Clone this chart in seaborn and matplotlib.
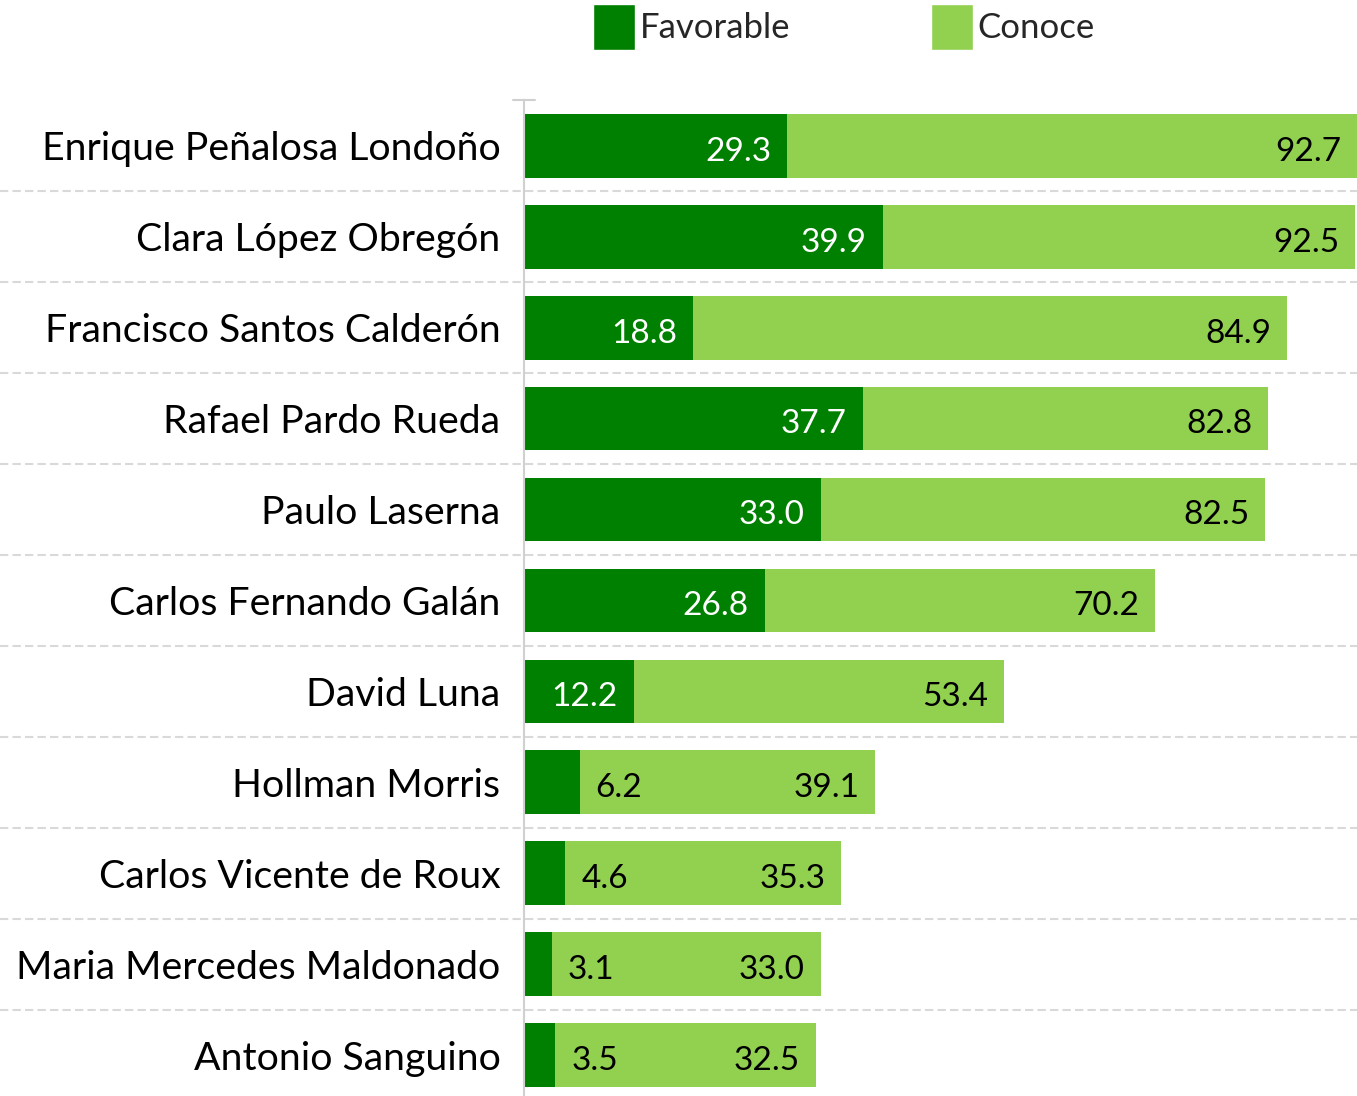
import matplotlib
matplotlib.use("Agg")
import matplotlib.pyplot as plt
import matplotlib.transforms as mtransforms
from matplotlib.patches import Patch
import seaborn as sns
import pandas as pd

# datos de la encuesta
candidatos = [
    "Enrique Peñalosa Londoño",
    "Clara López Obregón",
    "Francisco Santos Calderón",
    "Rafael Pardo Rueda",
    "Paulo Laserna",
    "Carlos Fernando Galán",
    "David Luna",
    "Hollman Morris",
    "Carlos Vicente de Roux",
    "Maria Mercedes Maldonado",
    "Antonio Sanguino",
]
favorable = [29.3, 39.9, 18.8, 37.7, 33.0, 26.8, 12.2, 6.2, 4.6, 3.1, 3.5]
conoce = [92.7, 92.5, 84.9, 82.8, 82.5, 70.2, 53.4, 39.1, 35.3, 33.0, 32.5]

VERDE = "#008000"
VERDE_CLARO = "#92D050"

df = pd.DataFrame({"Candidato": candidatos, "Favorable": favorable, "Conoce": conoce})

sns.set_theme(style="white")
plt.rcParams["font.family"] = ["Lato", "DejaVu Sans"]

W, H = 1357, 1096
fig = plt.figure(figsize=(W / 100, H / 100), dpi=100)
ax = fig.add_axes([524 / W, -4.5 / H, 833 / W, 1000 / H])

sns.barplot(data=df, x="Conoce", y="Candidato", color=VERDE_CLARO, saturation=1,
            width=0.7, linewidth=0, ax=ax)
sns.barplot(data=df, x="Favorable", y="Candidato", color=VERDE, saturation=1,
            width=0.7, linewidth=0, ax=ax)

ax.set_xlim(0, 92.7)
ax.set_ylim(len(candidatos) - 0.5, -0.5)
ax.set_xlabel("")
ax.set_ylabel("")
ax.set_xticks([])
ax.tick_params(axis="y", length=0, pad=17, labelsize=28.3, labelcolor="black")

for s in ["top", "right", "bottom"]:
    ax.spines[s].set_visible(False)
ax.spines["left"].set_color("#d0d0d0")
ax.spines["left"].set_linewidth(1.5)

# lineas punteadas entre categorias (se extienden hasta el borde izquierdo)
trans = mtransforms.blended_transform_factory(fig.transFigure, ax.transData)
for i in range(len(candidatos) - 1):
    ax.plot([0, 1], [i + 0.5, i + 0.5], transform=trans, color="#d9d9d9",
            lw=1.5, ls=(0, (4, 2)), clip_on=False, zorder=0)
# marca superior del eje
ax.plot([-1.2, 1.2], [-0.5, -0.5], color="#d0d0d0", lw=1.5, clip_on=False)

off = 16 * 72 / 100  # pixeles a puntos
for i, (f, c) in enumerate(zip(favorable, conoce)):
    ax.annotate(f"{c:.1f}", (c, i), xytext=(-off, -2), textcoords="offset points",
                ha="right", va="center_baseline", fontsize=24, color="black")
    if f >= 10:
        ax.annotate(f"{f:.1f}", (f, i), xytext=(-off, -2), textcoords="offset points",
                    ha="right", va="center_baseline", fontsize=24, color="white")
    else:
        ax.annotate(f"{f:.1f}", (f, i), xytext=(off, -2), textcoords="offset points",
                    ha="left", va="center_baseline", fontsize=24, color="black")

handles = [Patch(facecolor=VERDE, label="Favorable"),
           Patch(facecolor=VERDE_CLARO, label="Conoce")]
fig.legend(handles=handles, loc="center", bbox_to_anchor=(844 / W, 1 - 27 / H),
           ncol=2, frameon=False, fontsize=25, handlelength=1.2, handleheight=1.7,
           handletextpad=0.15, columnspacing=4.05)

fig.savefig("out.png", dpi=100)
